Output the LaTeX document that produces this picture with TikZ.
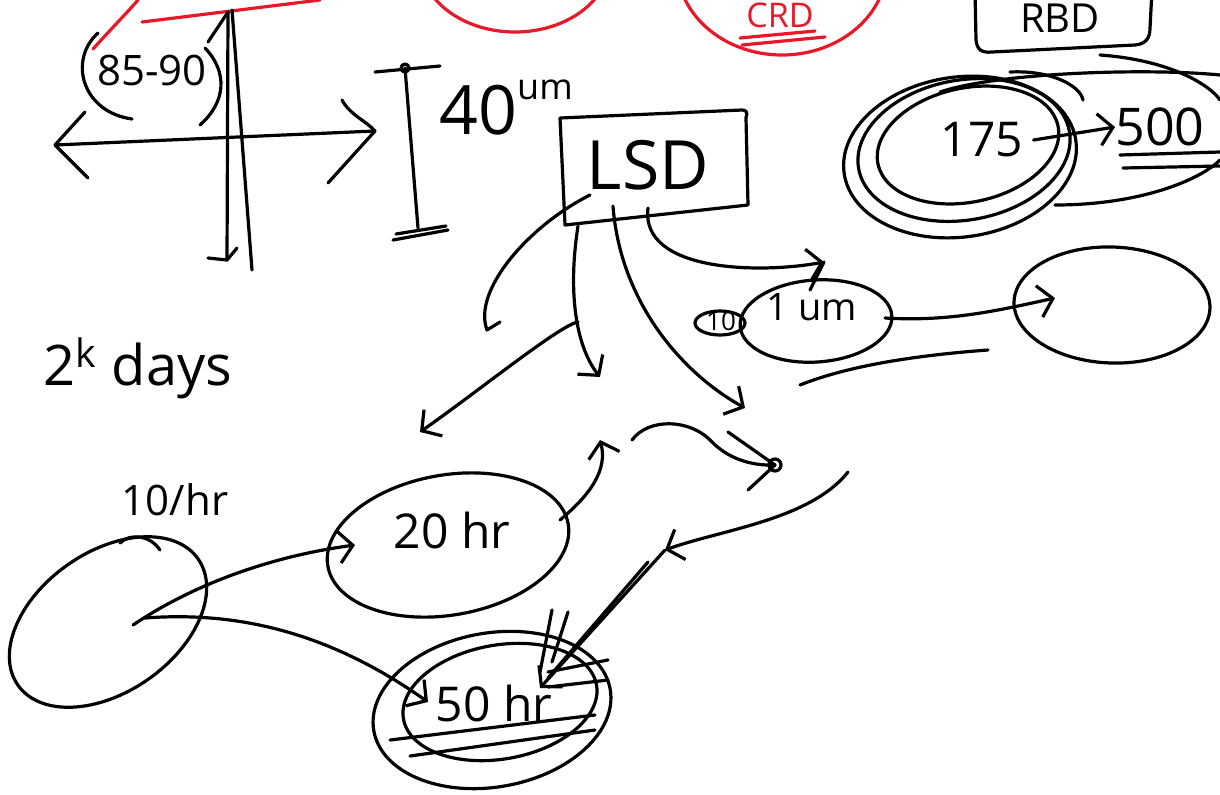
\documentclass[tikz,border=0pt]{standalone}
\usepackage{fontspec}
\setmainfont{Open Sans}
\usetikzlibrary{arrows.meta,shapes.geometric}
\definecolor{redpen}{RGB}{232,24,40}
\begin{document}
\begin{tikzpicture}[x=0.5pt,y=-0.5pt,
  ink/.style={line width=1.6pt,line cap=round,line join=round},
  redink/.style={ink,draw=redpen},
  barb/.style={ink,-{Straight Barb[length=7pt,width=16pt]}},
  oval/.style={ink,draw,ellipse,inner sep=0pt},
  hand/.style={inner sep=0pt,font=\fontsize{24}{24}\selectfont},
  big/.style={inner sep=0pt,font=\fontsize{34}{34}\selectfont}]
\useasboundingbox (0,0) rectangle (1220,794);
\clip (0,0) rectangle (1220,794);

% ---------- red marks at the top ----------
\draw[redink] (93,49) .. controls (110,30) and (125,15) .. (138,0);
\draw[redink] (142,22) -- (320,0);
\draw[redink] (515,-40) ellipse [x radius=95, y radius=72];
\draw[redink] (782,-35) ellipse [x radius=105, y radius=90];
\node[hand,text=redpen,font=\fontsize{17}{17}\selectfont] (crd) at (780,15) {CRD};
\draw[redink] (740,38) -- (815,31);
\draw[redink] (742,45) -- (825,37);

% ---------- RBD box at top right ----------
\draw[ink] (975,-10) -- (976,40) .. controls (977,50) and (982,53) .. (992,52)
  -- (1135,45) .. controls (1146,44) and (1150,38) .. (1150,28) -- (1152,-10);
\node[hand,font=\fontsize{20}{20}\selectfont] (rbd) at (1060,18) {RBD};

% ---------- axes ----------
\coordinate (axL) at (55,145);
\coordinate (axR) at (375,131);
\draw[ink] (axL) -- (axR);
\draw[ink] (85,112) -- (axL) -- (88,178);
\draw[ink] (342,100) .. controls (350,115) and (365,120) .. (axR) -- (328,183);
\coordinate (vtop) at (228,12);
\coordinate (vbot) at (227,260);
\draw[ink] (vtop) -- (vbot);
\draw[ink] (208,42) -- (vtop);
\draw[ink] (208,258) -- (vbot) -- (237,248);
\draw[ink] (232,10) -- (252,270);
% parentheses and range
\draw[ink] (98,33) .. controls (68,60) and (82,112) .. (132,119);
\draw[ink] (205,48) .. controls (228,72) and (226,102) .. (200,125);
\node[hand,font=\fontsize{21}{21}\selectfont] (range) at (152,70) {85-90};

% ---------- scale bar ----------
\coordinate (bt) at (405,68);
\coordinate (bb) at (418,228);
\draw[ink] (375,72) -- (440,66);
\draw[ink] (bt) circle [radius=4];
\draw[ink] (bt) -- (bb);
\draw[ink] (393,240) -- (448,230);
\draw[ink] (396,234) -- (446,226);
\node[inner sep=0pt,font=\fontsize{34}{34}\selectfont] (forty) at (478,110) {40};
\node[inner sep=0pt,font=\fontsize{18}{18}\selectfont] (um) at (545,90) {um};

% ---------- LSD box ----------
\draw[ink] (560,118) -- (742,110) .. controls (746,110) and (748,112) .. (746,118)
  -- (748,205) -- (565,225) -- cycle;
\node[big] (lsd) at (648,165) {LSD};
\coordinate (l1) at (590,195);
\coordinate (l2) at (578,226);
\coordinate (l3) at (613,206);
\coordinate (l4) at (648,208);

% ---------- 175 -> 500 cluster ----------
\node[oval,minimum width=117pt,minimum height=80pt,rotate=8] (o1) at (960,157) {};
\node[oval,minimum width=107pt,minimum height=70pt,rotate=10] (o2) at (964,150) {};
\node[oval,minimum width=92pt,minimum height=57pt,rotate=12] (o3) at (968,145) {};
\draw[ink] (1010,72) .. controls (1050,70) and (1080,85) .. (1083,100);
\draw[ink] (940,92) .. controls (1000,72) and (1150,68) .. (1220,75);
\draw[ink] (1100,55) .. controls (1170,60) and (1210,85) .. (1220,100);
\draw[ink] (1055,205) .. controls (1140,205) and (1200,180) .. (1220,160);
\node[hand] (n175) at (982,140) {175};
\node[inner sep=0pt,font=\fontsize{26}{26}\selectfont] (n500) at (1160,127) {500};
\draw[barb] (n175.east) ++(10,0) -- (n500.west);
\draw[ink] (1120,155) -- (1220,152);
\draw[ink] (1123,168) -- (1220,166);

% ---------- 1 um and right ellipse ----------
\node[oval,minimum width=76pt,minimum height=41pt,rotate=4] (e1um) at (816,321) {};
\node[oval,minimum width=25pt,minimum height=12pt] (esm) at (720,323) {};
\node[inner sep=0pt,font=\fontsize{13}{13}\selectfont] (n10) at (721,321) {10};
\node[inner sep=0pt,font=\fontsize{19}{19}\selectfont] (n1um) at (812,307) {1 um};
\node[oval,minimum width=98pt,minimum height=58pt,rotate=-2] (eright) at (1112,305) {};
\coordinate (c1) at (885,318);
\coordinate (c2) at (1055,298);
\draw[barb] (c1) .. controls (950,322) and (1000,310) .. (c2);
\draw[ink] (800,385) .. controls (850,365) and (920,355) .. (988,350);

% ---------- arrows out of LSD ----------
\coordinate (h1) at (487,330);
\draw[ink] (l1) .. controls (530,225) and (472,290) .. (h1) -- (500,322);
\coordinate (d1) at (600,377);
\draw[barb] (l2) .. controls (568,290) and (575,345) .. (d1);
\coordinate (s1) at (578,322);
\coordinate (s2) at (420,432);
\draw[barb] (s1) .. controls (560,325) and (480,390) .. (s2);
\coordinate (d2) at (745,408);
\draw[barb] (l3) .. controls (620,300) and (680,372) .. (d2);
\coordinate (d3) at (824,262);
\draw[barb] (l4) .. controls (640,272) and (760,274) .. (d3);
\draw[ink] (d3) -- (810,290);

% ---------- centre scribbles ----------
\coordinate (dot) at (775,465);
\draw[ink] (632,440) .. controls (648,418) and (690,418) .. (712,442)
  .. controls (728,458) and (750,466) .. (dot);
\draw[ink] (728,432) -- (dot);
\draw[ink] (748,490) -- (dot);
\draw[ink] (dot) circle [radius=6];
\coordinate (u1) at (848,472);
\coordinate (u2) at (665,550);
\draw[barb] (u1) .. controls (810,520) and (720,530) .. (u2);

% ---------- bottom-left ovals ----------
\node[oval,minimum width=110pt,minimum height=70pt,rotate=35] (e10) at (108,622) {};
\node[hand,font=\fontsize{21}{21}\selectfont] (n10hr) at (175,500) {10/hr};
\draw[ink] (120,543) .. controls (130,533) and (150,535) .. (160,550);
\node[oval,minimum width=122pt,minimum height=70pt,rotate=10] (e20) at (448,545) {};
\node[hand] (n20hr) at (452,530) {20 hr};
\node[oval,minimum width=120pt,minimum height=77pt,rotate=10] (e50a) at (492,710) {};
\node[oval,minimum width=98pt,minimum height=57pt,rotate=10] (e50b) at (500,702) {};
\node[hand] (n50hr) at (494,703) {50 hr};

\coordinate (a1) at (133,625);
\coordinate (a2) at (355,545);
\draw[barb] (a1) .. controls (200,580) and (280,555) .. (a2);
\coordinate (b1) at (145,618);
\coordinate (b2) at (428,702);
\draw[barb] (b1) .. controls (250,610) and (340,640) .. (b2);
\coordinate (t1) at (560,520);
\coordinate (t2) at (600,440);
\draw[barb] (t1) .. controls (590,495) and (608,470) .. (t2);
\coordinate (w1) at (665,550);
\coordinate (w2) at (540,688);
\draw[barb] (w1) -- (w2);
\draw[ink] (648,562) -- (548,678);
\draw[ink] (552,610) -- (540,672);
\draw[ink] (568,612) -- (552,662);
\draw[ink] (548,672) -- (608,660);
\draw[ink] (548,687) -- (608,680);
\draw[ink] (390,740) -- (595,715);
\draw[ink] (410,756) -- (595,730);

% ---------- 2^k days ----------
\node[inner sep=0pt,font=\fontsize{28}{28}\selectfont] (days) at (138,368) {2\textsuperscript{k} days};
\end{tikzpicture}
\end{document}
